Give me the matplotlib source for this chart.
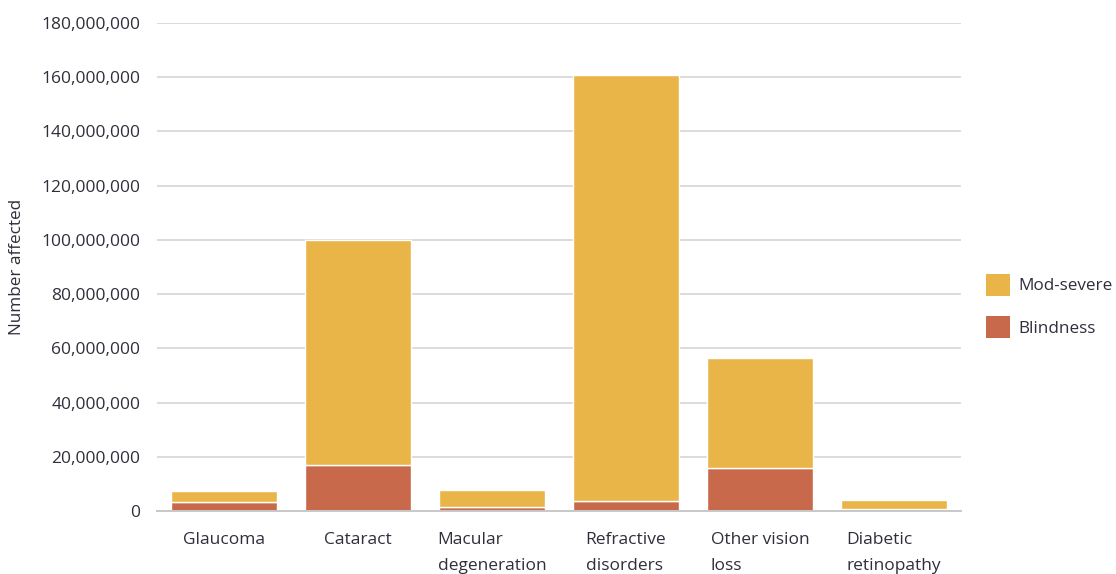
import matplotlib.pyplot as plt
import numpy as np
from matplotlib.ticker import FuncFormatter
from matplotlib.patches import Patch

plt.rcParams['font.family'] = ['Open Sans', 'DejaVu Sans']

# ===== data (number of people affected) =====
causes = ['Glaucoma', 'Cataract', 'Macular\ndegeneration', 'Refractive\ndisorders',
          'Other vision\nloss', 'Diabetic\nretinopathy']
blindness = [3.4e6, 17.0e6, 1.6e6, 3.5e6, 15.8e6, 0.9e6]
mod_severe = [4.0e6, 83.0e6, 6.2e6, 157.3e6, 40.5e6, 3.3e6]
y_ticks = np.arange(0, 180e6 + 1, 20e6)

YELLOW = '#E9B548'
RED = '#C8694B'
TEXT = '#2f2f3b'
GRID = '#dcdcdc'

fig = plt.figure(figsize=(11.16, 5.74), dpi=100)
ax = fig.add_axes([0.1407, 0.1098, 0.7204, 0.8502])

x = np.arange(len(causes))
w = 0.79
ax.bar(x, blindness, w, color=RED, edgecolor='white', linewidth=1.0, zorder=3)
ax.bar(x, mod_severe, w, bottom=blindness, color=YELLOW, edgecolor='white',
       linewidth=1.0, zorder=3)

ax.set_xlim(-0.5, len(causes) - 0.5)
ax.set_ylim(0, 180e6)
ax.set_yticks(y_ticks)
ax.yaxis.set_major_formatter(FuncFormatter(lambda v, p: f'{int(v):,}'))
ax.grid(axis='y', color=GRID, linewidth=1.4, zorder=0)
for s in ['top', 'right', 'left']:
    ax.spines[s].set_visible(False)
ax.spines['bottom'].set_color('#c8c8c8')
ax.spines['bottom'].set_linewidth(1.4)
ax.spines['bottom'].set_zorder(4)
ax.tick_params(axis='both', length=0, labelsize=12.5, labelcolor=TEXT)
ax.tick_params(axis='y', pad=12)
ax.tick_params(axis='x', pad=15)

ax.set_xticks(x)
ax.set_xticklabels(causes, multialignment='left', linespacing=1.85, va='top')

ax.set_ylabel('Number affected', fontsize=12.3, color=TEXT)
ax.yaxis.set_label_coords(-0.164, 0.5)

handles = [Patch(facecolor=YELLOW, label='Mod-severe'),
           Patch(facecolor=RED, label='Blindness')]
leg = ax.legend(handles=handles, loc='center left', bbox_to_anchor=(1.022, 0.42),
                frameon=False, fontsize=12.3, handlelength=1.45, handleheight=1.6,
                handletextpad=0.45, labelspacing=1.2, borderaxespad=0)
for t in leg.get_texts():
    t.set_color(TEXT)

fig.savefig('out.png', dpi=100)
